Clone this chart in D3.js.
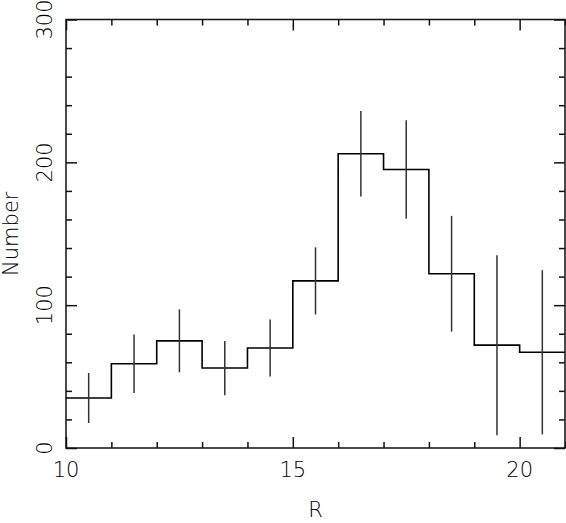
<!DOCTYPE html>
<html>
<head>
<meta charset="utf-8">
<script src="https://cdn.jsdelivr.net/npm/d3@7"></script>
<style>
  body { margin: 0; background: #fff; }
  svg text { font-family: "DejaVu Sans", sans-serif; font-weight: 200; font-size: 21px; fill: #000; }
</style>
</head>
<body>
<div id="chart"></div>
<script>
// histogram bins (left edges), counts and error bar half-widths
var binStart = [10, 11, 12, 13, 14, 15, 16, 17, 18, 19, 20];
var counts   = [35, 59, 75, 56, 70, 117, 206, 195, 122, 72, 67];
var errors   = [17.5, 20.5, 22, 19, 20, 23.5, 30, 34.5, 40.5, 63, 57.5];
var xMajor = [10, 15, 20];
var xMinor = [11, 12, 13, 14, 16, 17, 18, 19, 21];
var yMajor = [0, 100, 200, 300];
var yMinor = [20, 40, 60, 80, 120, 140, 160, 180, 220, 240, 260, 280];

var W = 566, H = 523;
var pLeft = 66, pRight = 565, pTop = 19.5, pBottom = 448;

var svg = d3.select("#chart").append("svg")
    .attr("width", W)
    .attr("height", H);

var x = d3.scaleLinear().domain([10, 21]).range([pLeft, pRight]);
var y = d3.scaleLinear().domain([0, 300]).range([pBottom, pTop]);

function tickAxis(axisFn, scale, vals, size, tx, ty) {
  var g = svg.append("g")
      .attr("transform", "translate(" + tx + "," + ty + ")")
      .call(axisFn(scale).tickValues(vals).tickSize(size).tickFormat(""));
  g.select(".domain").remove();
  g.selectAll("line").attr("stroke", "#111").attr("stroke-width", 1.5);
}

// ticks on all four sides, pointing inward
tickAxis(d3.axisBottom, x, xMajor, -11, 0, pBottom);
tickAxis(d3.axisBottom, x, xMinor, -6, 0, pBottom);
tickAxis(d3.axisTop, x, xMajor, -11, 0, pTop);
tickAxis(d3.axisTop, x, xMinor, -6, 0, pTop);
tickAxis(d3.axisLeft, y, yMajor, -11, pLeft, 0);
tickAxis(d3.axisLeft, y, yMinor, -6, pLeft, 0);
tickAxis(d3.axisRight, y, yMajor, -11, pRight, 0);
tickAxis(d3.axisRight, y, yMinor, -6, pRight, 0);

// frame
svg.append("rect")
    .attr("x", pLeft).attr("y", pTop)
    .attr("width", pRight - pLeft).attr("height", pBottom - pTop)
    .attr("fill", "none").attr("stroke", "#111").attr("stroke-width", 1.5);

// tick labels
svg.selectAll(".xl").data(xMajor).enter().append("text")
    .attr("class", "xl")
    .attr("x", function(d){ return x(d); })
    .attr("y", 477)
    .attr("text-anchor", "middle")
    .text(function(d){ return d; });

svg.selectAll(".yl").data(yMajor).enter().append("text")
    .attr("class", "yl")
    .attr("transform", function(d){ return "translate(52," + y(d) + ") rotate(-90)"; })
    .attr("text-anchor", "middle")
    .text(function(d){ return d; });

// axis titles
svg.append("text")
    .attr("x", (pLeft + pRight) / 2)
    .attr("y", 517)
    .attr("text-anchor", "middle")
    .text("R");

svg.append("text")
    .attr("transform", "translate(17.5," + (pTop + pBottom) / 2 + ") rotate(-90)")
    .attr("text-anchor", "middle")
    .text("Number");

// step histogram
var pts = [];
binStart.forEach(function(b, i){
  pts.push([b, counts[i]]);
  pts.push([b + 1, counts[i]]);
});
var line = d3.line()
    .x(function(d){ return x(d[0]); })
    .y(function(d){ return y(d[1]); });

svg.append("path")
    .datum(pts)
    .attr("d", line)
    .attr("fill", "none")
    .attr("stroke", "#000")
    .attr("stroke-width", 1.6);

// error bars at bin centres
svg.selectAll(".err").data(binStart).enter().append("line")
    .attr("class", "err")
    .attr("x1", function(d){ return x(d + 0.5); })
    .attr("x2", function(d){ return x(d + 0.5); })
    .attr("y1", function(d, i){ return y(counts[i] - errors[i]); })
    .attr("y2", function(d, i){ return y(counts[i] + errors[i]); })
    .attr("stroke", "#333")
    .attr("stroke-width", 1.5);
</script>
</body>
</html>
